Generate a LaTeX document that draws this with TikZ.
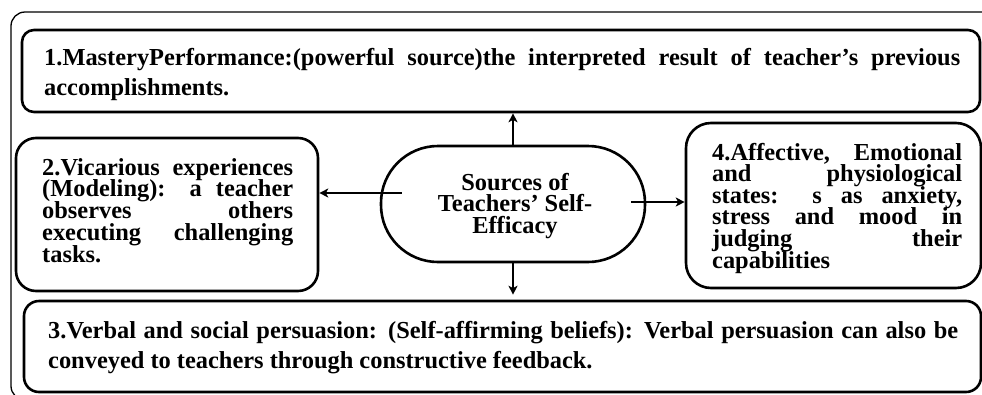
\documentclass[tikz,border=0pt]{standalone}
\usepackage{fontspec}
\setmainfont{Liberation Serif}
\usetikzlibrary{arrows.meta,calc}
\newcommand\jusline[1]{\hbox to \hsize{#1}}
\newcommand\lastln[1]{\hbox{#1}}
\newcommand\midln[1]{\hbox to \hsize{\hfil#1\hfil}}
\newcommand\txtblock[3]{\vtop{\hsize=#1\relax\baselineskip=#2\relax\lineskiplimit=-100pt\lineskip=0pt #3}}
\tikzset{
  box/.style={draw, line width=2.6pt, rectangle, inner sep=0pt},
  txt/.style={inner sep=0pt, font=\fontsize{24.4}{22}\selectfont\bfseries},
  arr/.style={line width=2pt, -{Stealth[length=9pt,width=9pt,inset=2.5pt]}}
}
\begin{document}
\begin{tikzpicture}[x=1pt,y=-1pt]
\useasboundingbox (0,0) rectangle (982,394);
\fill[white] (0,0) rectangle (982,394);
% outer frame
\draw[line width=1.3pt, rounded corners=14pt] (11,12) rectangle (1010,400);
% boxes
\node[box, rounded corners=12pt, minimum width=958pt, minimum height=82pt] (b1) at (501,71) {};
\node[box, rounded corners=20pt, minimum width=302pt, minimum height=153pt] (b2) at (167,214.5) {};
\node[box, rounded corners=25pt, minimum width=295pt, minimum height=165pt] (b4) at (833.5,205.5) {};
\node[box, rounded corners=15pt, minimum width=957pt, minimum height=91pt] (b3) at (502.5,346.5) {};
\node[box, rounded corners=57pt, minimum width=264pt, minimum height=116pt] (c) at (513,204) {};
% texts
\node[txt, anchor=base west] (t1) at (44,65) {\txtblock{916pt}{30pt}{%
\jusline{1.MasteryPerformance:(powerful source)the interpreted result of teacher’s previous}%
\lastln{accomplishments.}}};
\node[txt, anchor=base west] (t2) at (42,175) {\txtblock{251pt}{21.8pt}{%
\jusline{2.Vicarious experiences}%
\jusline{(Modeling): a teacher}%
\jusline{observes others}%
\jusline{executing challenging}%
\lastln{tasks.}}};
\node[txt, anchor=base west] (t4) at (712,160) {\txtblock{250pt}{21.6pt}{%
\jusline{4.Affective, Emotional}%
\jusline{and physiological}%
\jusline{states: s as anxiety,}%
\jusline{stress and mood in}%
\jusline{judging their}%
\lastln{capabilities}}};
\node[txt, anchor=base] (tc) at (515,190) {\txtblock{200pt}{21.5pt}{%
\midln{Sources of}%
\midln{Teachers’ Self-}%
\midln{Efficacy}}};
\node[txt, anchor=base west] (t3) at (48,338) {\txtblock{910pt}{30pt}{%
\jusline{3.Verbal and social persuasion: (Self-affirming beliefs): Verbal persuasion can also be}%
\lastln{conveyed to teachers through constructive feedback.}}};
% connectors
\coordinate (l1) at ([shift={(22,-11)}]c.west);
\coordinate (r1) at ([shift={(-15,-2)}]c.east);
\draw[arr] (c.north) -- (c.north |- b1.south);
\draw[arr] (l1) -- (l1 -| b2.east);
\draw[arr] (r1) -- (r1 -| b4.west);
\draw[arr] (c.south) -- ($(c.south |- b3.north)+(0,-5)$);
\end{tikzpicture}
\end{document}
